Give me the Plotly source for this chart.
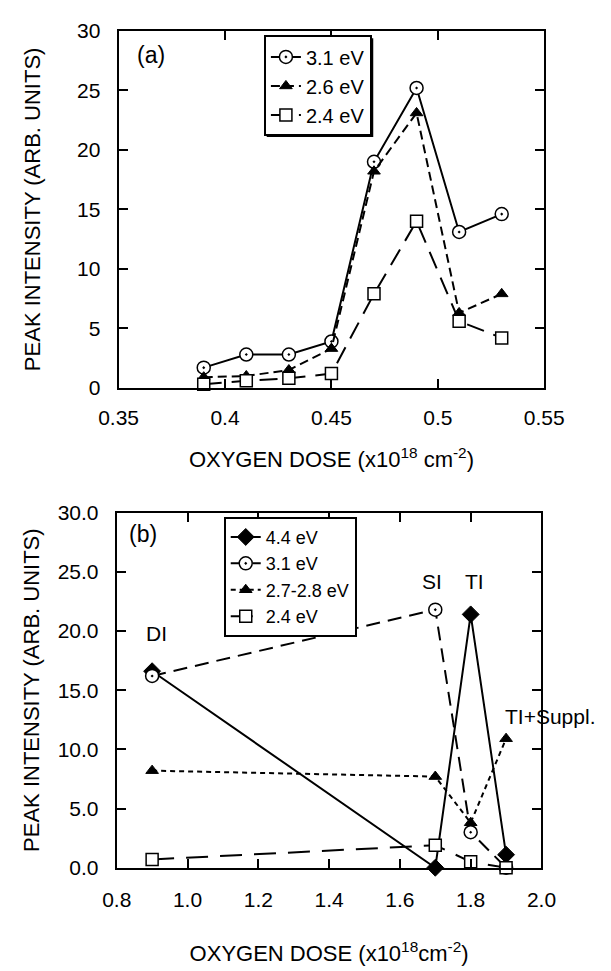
import plotly.graph_objects as go

# ---------------- data ----------------
dose_a = [0.39, 0.41, 0.43, 0.45, 0.47, 0.49, 0.51, 0.53]
a_31 = [1.7, 2.8, 2.8, 3.9, 19.0, 25.2, 13.1, 14.6]
a_26 = [0.9, 1.0, 1.5, 3.3, 18.2, 23.1, 6.3, 7.9]
a_24 = [0.3, 0.6, 0.8, 1.2, 7.9, 14.0, 5.6, 4.2]

dose_b = [0.9, 1.7, 1.8, 1.9]
b_44 = [16.6, 0.0, 21.4, 1.1]
b_31 = [16.2, 21.8, 3.0, 0.0]
b_2728 = [8.2, 7.7, 3.8, 10.9]
b_24 = [0.7, 1.9, 0.5, 0.0]

a_xticks = [0.35, 0.4, 0.45, 0.5, 0.55]
a_xlabels = ["0.35", "0.4", "0.45", "0.5", "0.55"]

FONT = "Liberation Sans, Arial, Helvetica, sans-serif"
W, H = 611, 971

# legend geometry (pixels)
LEG_A = dict(left=261, top=24, font=20, width=114, height=101)
LEG_B = dict(left=218, top=517, font=18, width=139, height=120)
SHADOW = 3


def px(v):
    return v / W


def py(v):
    return 1 - v / H


fig = go.Figure()

# ---------- panel (a) ----------
fig.add_trace(go.Scatter(
    x=dose_a, y=a_31, name="3.1 eV", mode="lines+markers",
    line=dict(color="black", width=2),
    marker=dict(symbol="circle-dot", size=13, color="white", line=dict(color="black", width=1.5)),
    xaxis="x", yaxis="y", legend="legend", cliponaxis=False))
fig.add_trace(go.Scatter(
    x=dose_a, y=a_26, name="2.6 eV", mode="lines+markers",
    line=dict(color="black", width=2, dash="9px,5px"),
    marker=dict(symbol="triangle-up", size=11, color="black", line=dict(color="black", width=1)),
    xaxis="x", yaxis="y", legend="legend", cliponaxis=False))
fig.add_trace(go.Scatter(
    x=dose_a, y=a_24, name="2.4 eV", mode="lines+markers",
    line=dict(color="black", width=2, dash="18px,10px"),
    marker=dict(symbol="square", size=12, color="white", line=dict(color="black", width=1.5)),
    xaxis="x", yaxis="y", legend="legend", cliponaxis=False))

# ---------- panel (b) ----------
fig.add_trace(go.Scatter(
    x=dose_b, y=b_44, name="4.4 eV", mode="lines+markers",
    line=dict(color="black", width=2),
    marker=dict(symbol="diamond", size=13, color="black", line=dict(color="black", width=1)),
    xaxis="x2", yaxis="y2", legend="legend2", cliponaxis=False))
fig.add_trace(go.Scatter(
    x=dose_b, y=b_31, name="3.1 eV", mode="lines+markers",
    line=dict(color="black", width=2, dash="14px,8px"),
    marker=dict(symbol="circle-dot", size=13, color="white", line=dict(color="black", width=1.5)),
    xaxis="x2", yaxis="y2", legend="legend2", cliponaxis=False))
fig.add_trace(go.Scatter(
    x=dose_b, y=b_2728, name="2.7-2.8 eV", mode="lines+markers",
    line=dict(color="black", width=2, dash="5px,4px"),
    marker=dict(symbol="triangle-up", size=11, color="black", line=dict(color="black", width=1)),
    xaxis="x2", yaxis="y2", legend="legend2", cliponaxis=False))
fig.add_trace(go.Scatter(
    x=dose_b, y=b_24, name="2.4 eV", mode="lines+markers",
    line=dict(color="black", width=2, dash="22px,12px"),
    marker=dict(symbol="square", size=12, color="white", line=dict(color="black", width=1.5)),
    xaxis="x2", yaxis="y2", legend="legend2", cliponaxis=False))

axis_common = dict(
    showline=True, linecolor="black", linewidth=2, mirror="ticks",
    ticks="inside", ticklen=9, tickwidth=1.5, tickcolor="black",
    showgrid=False, zeroline=False,
    tickfont=dict(family=FONT, size=21, color="black"),
)

title_x = "OXYGEN DOSE (x10<sup>18</sup> cm<sup>-2</sup>)"
title_x2 = "OXYGEN DOSE (x10<sup>18</sup>cm<sup>-2</sup>)"
title_y = "PEAK INTENSITY (ARB. UNITS)"


def legend_cfg(g):
    return dict(x=px(g["left"]), y=py(g["top"]), xanchor="left", yanchor="top",
                bgcolor="white", bordercolor="black", borderwidth=2,
                font=dict(family=FONT, size=g["font"], color="black"), itemwidth=30)


def shadow(g):
    return dict(type="rect", xref="paper", yref="paper", layer="above",
                x0=px(g["left"] + SHADOW), x1=px(g["left"] + g["width"] + SHADOW),
                y0=py(g["top"] + g["height"] + SHADOW), y1=py(g["top"] + SHADOW),
                fillcolor="black", line=dict(width=0))


fig.update_layout(
    width=W, height=H, autosize=False,
    margin=dict(l=0, r=0, t=0, b=0),
    paper_bgcolor="white", plot_bgcolor="white",
    font=dict(family=FONT, color="black"),
    xaxis=dict(axis_common, domain=[px(105.5), px(561)], range=[0.35, 0.55],
               tickmode="array", tickvals=a_xticks, ticktext=a_xlabels,
               ticklabelstandoff=10,
               title=dict(text=title_x, font=dict(size=22), standoff=24), anchor="y"),
    yaxis=dict(axis_common, domain=[py(385), py(19.3)], range=[0, 30], dtick=5,
               ticklabelstandoff=12,
               title=dict(text=title_y, font=dict(size=22), standoff=30), anchor="x"),
    xaxis2=dict(axis_common, domain=[px(103.5), px(558)], range=[0.8, 2.0], dtick=0.2,
                tickformat=".1f", ticklabelstandoff=12,
                title=dict(text=title_x2, font=dict(size=22), standoff=36), anchor="y2"),
    yaxis2=dict(axis_common, domain=[py(876.5), py(512.7)], range=[0, 30], dtick=5,
                tickformat=".1f", ticklabelstandoff=12,
                title=dict(text=title_y, font=dict(size=22), standoff=12), anchor="x2"),
    legend=legend_cfg(LEG_A),
    legend2=legend_cfg(LEG_B),
    showlegend=True,
    shapes=[shadow(LEG_A), shadow(LEG_B)],
)

ann_font = dict(family=FONT, size=21, color="black")
fig.add_annotation(x=0.365, y=27.95, xref="x", yref="y", text="(a)", showarrow=False,
                   font=dict(family=FONT, size=23, color="black"))
fig.add_annotation(x=0.875, y=28.15, xref="x2", yref="y2", text="(b)", showarrow=False,
                   font=dict(family=FONT, size=23, color="black"))
fig.add_annotation(x=0.912, y=19.8, xref="x2", yref="y2", text="DI", showarrow=False, font=ann_font)
fig.add_annotation(x=1.69, y=24.2, xref="x2", yref="y2", text="SI", showarrow=False, font=ann_font)
fig.add_annotation(x=1.812, y=24.2, xref="x2", yref="y2", text="TI", showarrow=False, font=ann_font)
fig.add_annotation(x=1.892, y=12.8, xref="x2", yref="y2", text="TI+Suppl.", showarrow=False,
                   xanchor="left", font=ann_font)

fig.write_html("out.html")
